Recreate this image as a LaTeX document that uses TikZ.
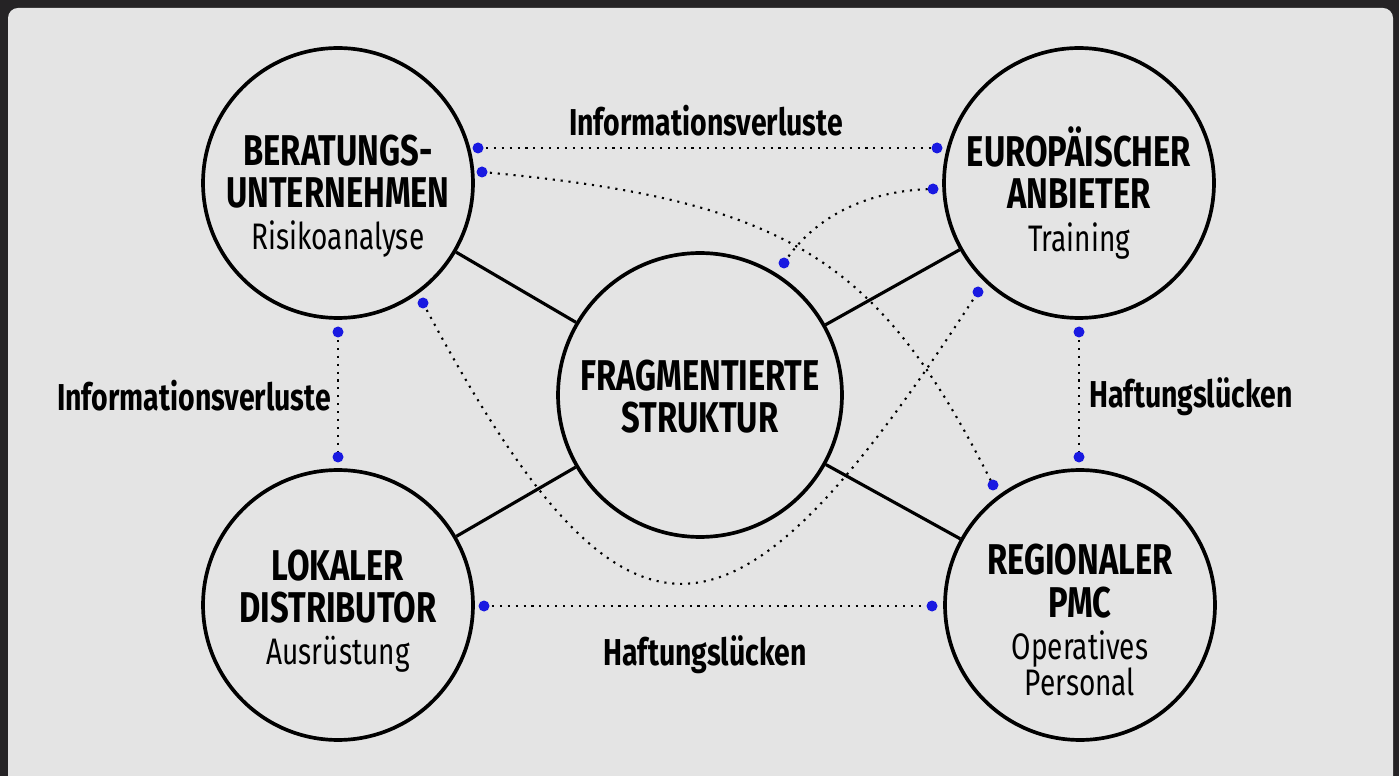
\documentclass[tikz,border=0pt]{standalone}
\usepackage{fontspec}
\setmainfont{Fira Sans}[FakeStretch=0.76]
\usetikzlibrary{positioning}
\definecolor{bgdark}{RGB}{37,35,37}
\definecolor{bglight}{RGB}{228,228,228}
\definecolor{dotblue}{RGB}{25,25,225}
\newcommand{\role}[1]{{\mdseries\fontsize{21}{17}\selectfont #1}}
\tikzstyle{hub} = [circle, draw=black, line width=2.1pt, fill=bglight, minimum size=5.4cm, inner sep=0pt]
\tikzstyle{core} = [hub, minimum size=5.68cm]
\tikzstyle{title} = [align=center, inner sep=0pt, font=\fontsize{24.5}{24}\selectfont\bfseries]
\tikzstyle{link} = [line width=1.8pt]
\tikzstyle{gapline} = [line width=1.2pt, dash pattern=on 1.2pt off 3.3pt]
\tikzstyle{gaptext} = [inner sep=0pt, font=\fontsize{21.3}{24}\selectfont\bfseries]
\begin{document}
\begin{tikzpicture}[x=0.02cm, y=-0.02cm]

\useasboundingbox (0,0) rectangle (1399,776);
\fill[bgdark] (0,0) rectangle (1399,776);
\fill[bglight, rounded corners=0.2cm] (8,8) rectangle (1393,786);

% end points of the gaps
\coordinate (infoA) at (478,148);
\coordinate (infoB) at (937,148);
\coordinate (crossA) at (482,172);
\coordinate (crossB) at (993,485);
\coordinate (arcA) at (784,263);
\coordinate (arcB) at (933,189);
\coordinate (uA) at (423,303);
\coordinate (uB) at (978,292);
\coordinate (leftA) at (338,332);
\coordinate (leftB) at (338,457);
\coordinate (rightA) at (1079,332);
\coordinate (rightB) at (1079,457);
\coordinate (lowA) at (484,606);
\coordinate (lowB) at (932,606);

\draw [gapline] (infoA) -- (infoB);
\draw [gapline] (crossA) .. controls (790,200) and (880,260) .. (crossB);
\draw [gapline] (arcA) .. controls (815,215) and (870,190) .. (arcB);
\draw [gapline] (uA) .. controls (631,694) and (737,664) .. (uB);
\draw [gapline] (leftA) -- (leftB);
\draw [gapline] (rightA) -- (rightB);
\draw [gapline] (lowA) -- (lowB);

\node (berat) [hub] at (338,183) {};
\node (europ) [hub] at (1079,183) {};
\node (struk) [core] at (700,395) {};
\node (lokal) [hub] at (338,605) {};
\node (region) [hub] at (1080,605) {};

\node (beratText) [title] at (338,196) {BERATUNGS-\\UNTERNEHMEN\\\role{Risikoanalyse}};
\node (europText) [title] at (1079,193) {EUROPÄISCHER\\ANBIETER\\\role{Training}};
\node (strukText) [title] at (700,397) {FRAGMENTIERTE\\STRUKTUR};
\node (lokalText) [title] at (338,611) {LOKALER\\DISTRIBUTOR\\\role{Ausrüstung}};
\node (regionText) [title] at (1080,620) {REGIONALER\\PMC\\\role{Operatives}\\[-3.5pt]\role{Personal}};

\draw [link] (berat) -- (struk);
\draw [link] (europ) -- (struk);
\draw [link] (lokal) -- (struk);
\draw [link] (region) -- (struk);

\foreach \p in {infoA,infoB,crossA,crossB,arcA,arcB,uA,uB,leftA,leftB,rightA,rightB,lowA,lowB}
  \fill[dotblue] (\p) circle (0.11cm);

\node (infoTop) [gaptext] at (706,121) {Informationsverluste};
\node (infoLeft) [gaptext] at (194,396) {Informationsverluste};
\node (haftRight) [gaptext] at (1191,397) {Haftungslücken};
\node (haftLow) [gaptext] at (705,655) {Haftungslücken};

\end{tikzpicture}
\end{document}
